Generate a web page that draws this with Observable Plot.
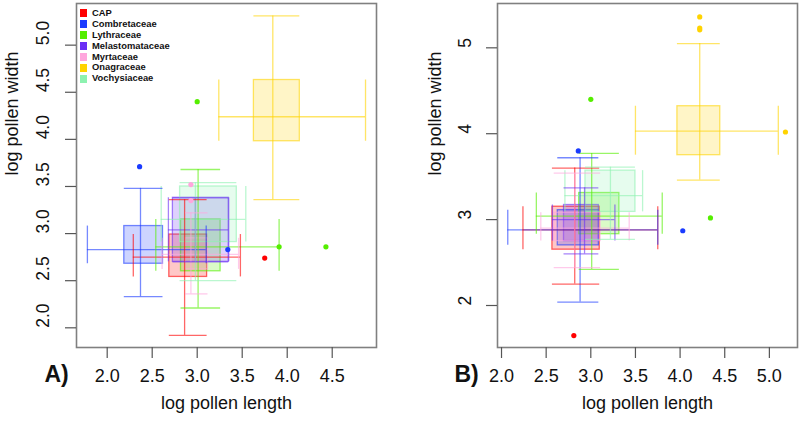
<!DOCTYPE html>
<html>
<head>
<meta charset="utf-8">
<script src="https://cdn.jsdelivr.net/npm/d3@7"></script>
<script src="https://cdn.jsdelivr.net/npm/@observablehq/plot@0.6"></script>
<style>
  html, body { margin: 0; padding: 0; background: #fff; }
  #wrap { position: relative; width: 800px; height: 422px; font-family: "Liberation Sans", Arial, sans-serif; }
  .panel { position: absolute; top: 0; }
  #legend { position: absolute; left: 80px; top: 8px; font-weight: bold; font-size: 9.4px; line-height: 10.9px; color: #111; }
  #legend .row { display: flex; align-items: center; height: 10.9px; }
  #legend .sw { width: 7px; height: 8px; margin-right: 5px; }
</style>
</head>
<body>
<div id="wrap">
  <div id="pa" class="panel" style="left:0"></div>
  <div id="pb" class="panel" style="left:400px"></div>
  <div id="legend"></div>
</div>
<script>
// ---- data ----
const families = ["CAP","Combretaceae","Lythraceae","Melastomataceae","Myrtaceae","Onagraceae","Vochysiaceae"];
const palette  = ["#FF0000","#1A3BFF","#55EE00","#6B2EF5","#FFA6DD","#FFD300","#8DF2B0"];

// [whisker low, Q1, median, Q3, whisker high]
const lengthA = [
  [2.29, 2.69, 2.86, 3.11, 3.48],
  [1.78, 2.19, 2.37, 2.62, 3.10],
  [2.54, 2.82, 3.01, 3.26, 3.91],
  [2.68, 2.73, 2.98, 3.35, 3.35],
  [2.61, 2.87, 2.93, 3.12, 3.46],
  [3.24, 3.63, 3.84, 4.14, 4.87],
  [2.60, 2.81, 2.98, 3.44, 3.54]
];
const widthA = [
  [1.92, 2.54, 2.75, 2.99, 3.36],
  [2.33, 2.68, 2.83, 3.08, 3.48],
  [2.21, 2.60, 2.86, 3.15, 3.68],
  [2.70, 2.70, 3.04, 3.38, 3.38],
  [2.36, 2.62, 2.78, 2.95, 3.22],
  [3.36, 3.98, 4.24, 4.63, 5.31],
  [2.50, 2.91, 3.15, 3.50, 3.54]
];
const outliersA = [
  ["CAP", 3.75, 2.74],
  ["Combretaceae", 2.36, 3.71], ["Combretaceae", 3.34, 2.83],
  ["Lythraceae", 3.00, 4.40], ["Lythraceae", 3.91, 2.86], ["Lythraceae", 4.43, 2.86],
  ["Myrtaceae", 2.93, 3.52], ["Myrtaceae", 2.93, 3.35]
];

const lengthB = [
  [2.24, 2.57, 2.82, 3.10, 3.75],
  [2.07, 2.63, 2.88, 3.09, 3.75],
  [2.39, 2.87, 3.01, 3.32, 3.80],
  [2.57, 2.70, 2.93, 3.09, 3.27],
  [2.44, 2.59, 2.82, 3.11, 3.43],
  [3.50, 3.97, 4.22, 4.45, 5.10],
  [2.71, 2.94, 3.22, 3.50, 3.58]
];
const widthB = [
  [2.25, 2.65, 2.88, 3.15, 3.60],
  [2.04, 2.70, 2.88, 3.11, 3.72],
  [2.42, 2.83, 3.04, 3.31, 3.77],
  [2.60, 2.75, 3.00, 3.17, 3.37],
  [2.44, 2.75, 2.90, 3.08, 3.54],
  [3.46, 3.75, 4.03, 4.32, 5.05],
  [2.77, 3.09, 3.28, 3.57, 3.61]
];
const outliersB = [
  ["CAP", 2.81, 1.65],
  ["Combretaceae", 2.86, 3.80], ["Combretaceae", 4.03, 2.87],
  ["Lythraceae", 3.00, 4.40], ["Lythraceae", 4.34, 3.02],
  ["Onagraceae", 5.18, 4.02], ["Onagraceae", 4.22, 5.36], ["Onagraceae", 4.22, 5.23], ["Onagraceae", 4.22, 5.21]
];

const xTicksA = ["2.0","2.5","3.0","3.5","4.0","4.5"];
const yTicksA = ["2.0","2.5","3.0","3.5","4.0","4.5","5.0"];
const xTicksB = ["2.0","2.5","3.0","3.5","4.0","4.5","5.0"];
const yTicksB = ["2","3","4","5"];

// ---- drawing ----
function panel(lens, wids, outs, cfg) {
  const rows = families.map((f, i) => ({f, lx: lens[i], wy: wids[i]}));
  const vcaps = rows.flatMap(d => [0, 4].map(k => ({f: d.f, x: d.lx[k], y1: d.wy[1], y2: d.wy[3]})));
  const hcaps = rows.flatMap(d => [0, 4].map(k => ({f: d.f, y: d.wy[k], x1: d.lx[1], x2: d.lx[3]})));
  const pts = outs.map(([f, x, y]) => ({f, x, y}));
  const sw = 1.3, so = 0.6;
  const ff = "Liberation Sans, Arial, sans-serif";
  return Plot.plot({
    width: 400, height: 422,
    marginLeft: cfg.ml, marginRight: cfg.mr, marginTop: 3, marginBottom: 75,
    x: {domain: cfg.xd},
    y: {domain: cfg.yd},
    color: {domain: families, range: palette},
    style: {fontFamily: ff, background: "transparent", overflow: "visible"},
    marks: [
      Plot.rect(rows, {x1: d => d.lx[1], x2: d => d.lx[3], y1: d => d.wy[1], y2: d => d.wy[3],
        fill: "f", fillOpacity: 0.22, stroke: "f", strokeOpacity: so, strokeWidth: sw}),
      Plot.ruleY(rows, {y: d => d.wy[2], x1: d => d.lx[0], x2: d => d.lx[4], stroke: "f", strokeOpacity: so, strokeWidth: sw}),
      Plot.ruleX(rows, {x: d => d.lx[2], y1: d => d.wy[0], y2: d => d.wy[4], stroke: "f", strokeOpacity: so, strokeWidth: sw}),
      Plot.ruleX(vcaps, {x: "x", y1: "y1", y2: "y2", stroke: "f", strokeOpacity: so, strokeWidth: sw}),
      Plot.ruleY(hcaps, {y: "y", x1: "x1", x2: "x2", stroke: "f", strokeOpacity: so, strokeWidth: sw}),
      Plot.dot(pts, {x: "x", y: "y", fill: "f", r: 2.6}),
      Plot.frame({stroke: "#808080", strokeWidth: 1.6}),
      Plot.axisX({ticks: cfg.xt.map(Number), tickSize: 11, tickFormat: () => "", stroke: "#555", strokeWidth: 1.2}),
      Plot.axisY({ticks: cfg.yt.map(Number), tickSize: 11, tickFormat: () => "", stroke: "#555", strokeWidth: 1.2}),
      Plot.text(cfg.xt, {x: d => +d, text: d => d, frameAnchor: "bottom", dy: 34, fontSize: 18, fill: "#111"}),
      Plot.text(cfg.yt, {y: d => +d, text: d => d, frameAnchor: "left", dx: cfg.ytdx, rotate: -90, fontSize: 17.5, fill: "#111"}),
      Plot.text(["log pollen length"], {text: d => d, frameAnchor: "bottom", dy: 61, fontSize: 18, fill: "#111"}),
      Plot.text(["log pollen width"], {text: d => d, frameAnchor: "left", dx: cfg.ytitledx, rotate: -90, fontSize: 18, fill: "#111"}),
      Plot.text([cfg.letter], {text: d => d, frameAnchor: "bottom-left", dx: cfg.letdx, dy: 34, fontSize: 23, fontWeight: "bold", fill: "#111"})
    ]
  });
}

document.getElementById("pa").appendChild(panel(lengthA, widthA, outliersA, {
  ml: 76, mr: 24, xd: [1.659, 4.992], yd: [1.791, 5.442], xt: xTicksA, yt: yTicksA,
  ytdx: -33, ytitledx: -64, letter: "A)", letdx: -32
}));
document.getElementById("pb").appendChild(panel(lengthB, widthB, outliersB, {
  ml: 97, mr: 3, xd: [1.955, 5.315], yd: [1.511, 5.516], xt: xTicksB, yt: yTicksB,
  ytdx: -32, ytitledx: -62, letter: "B)", letdx: -43
}));

const leg = document.getElementById("legend");
families.forEach((f, i) => {
  const r = document.createElement("div");
  r.className = "row";
  r.innerHTML = `<span class="sw" style="background:${palette[i]}"></span><span>${f}</span>`;
  leg.appendChild(r);
});
</script>
</body>
</html>
